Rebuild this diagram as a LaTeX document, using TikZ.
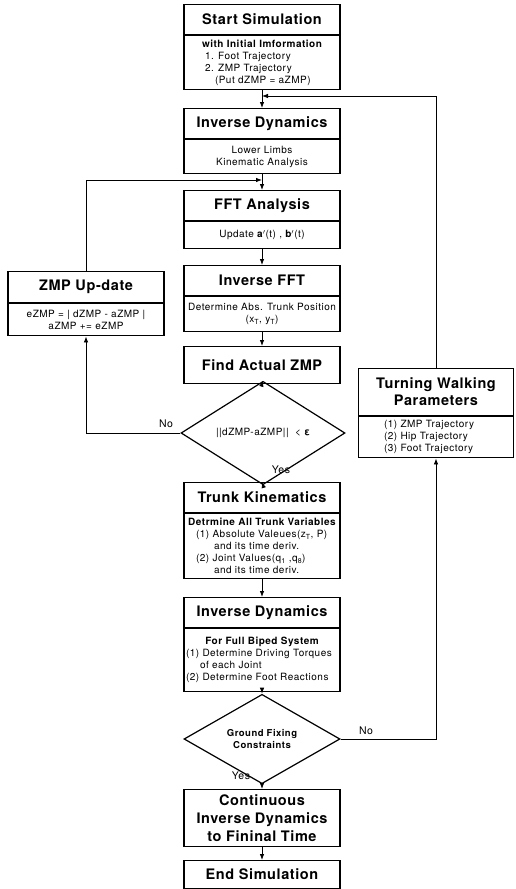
\documentclass[tikz,border=0pt]{standalone}
\usepackage{fontspec}
\setmainfont{TeX Gyre Heros}
\newfontfamily\ttlfont[LetterSpace=4]{TeX Gyre Heros}
\newfontfamily\bdyfont[LetterSpace=5]{TeX Gyre Heros}
\usetikzlibrary{arrows.meta,shapes.geometric}
\tikzset{
  ttl/.style={draw, line width=1.2pt, inner sep=0pt, anchor=north, align=center,
    minimum width=156pt, font=\ttlfont\fontsize{14.5}{17}\selectfont\bfseries},
  bdy/.style={draw, line width=1.2pt, inner sep=0pt, anchor=north, align=center,
    minimum width=156pt, font=\bdyfont\fontsize{10}{12}\selectfont},
  dec/.style={draw, diamond, line width=1.2pt, inner sep=0pt, align=center},
  arr/.style={-{Latex[length=6pt,width=4.5pt]}, line width=0.8pt},
  lbl/.style={font=\bdyfont\fontsize{10.5}{12}\selectfont, inner sep=0pt}
}
\begin{document}
\begin{tikzpicture}[x=1pt,y=-1pt]
\useasboundingbox (0,0) rectangle (515,889);
% Start
\node[ttl, minimum height=30pt] (st) at (262,4) {Start Simulation};
\node[bdy, minimum height=54pt] (sb) at (st.south) {{\bfseries with Initial Imformation}\\
  \makebox[114pt][l]{1. Foot Trajectory}\\
  \makebox[114pt][l]{2. ZMP Trajectory}\\
  \makebox[114pt][l]{\hspace{10pt}(Put dZMP = aZMP)}};
% Inverse dynamics 1
\node[ttl, minimum height=30pt] (id) at (262,108) {Inverse Dynamics};
\node[bdy, minimum height=34pt] (ib) at (id.south) {Lower Limbs\\Kinematic Analysis};
% FFT
\node[ttl, minimum height=30pt] (ff) at (262,190) {FFT Analysis};
\node[bdy, minimum height=27pt] (fb) at (ff.south) {Update {\bfseries a}$'$(t) , {\bfseries b}$'$(t)};
% Inverse FFT
\node[ttl, minimum height=30pt] (if) at (262,265) {Inverse FFT};
\node[bdy, minimum height=35pt] (iq) at (if.south) {Determine Abs. Trunk Position\\(x\textsubscript{T}, y\textsubscript{T})};
% ZMP update
\node[ttl, minimum height=31pt] (zu) at (86,271) {ZMP Up-date};
\node[bdy, minimum height=32pt] (zb) at (zu.south) {eZMP = | dZMP - aZMP |\\aZMP += eZMP};
% Find actual ZMP
\node[ttl, minimum height=37pt] (fa) at (262,346) {Find Actual ZMP};
% Decision 1
\node[dec, minimum width=164pt, minimum height=62pt, font=\bdyfont\fontsize{10}{12}\selectfont] (d1) at (263,433) {||dZMP-aZMP||\ \ < {\bfseries ε}};
% Trunk kinematics
\node[ttl, minimum height=30pt] (tk) at (262,482) {Trunk Kinematics};
\node[bdy, minimum height=65pt] (tb) at (tk.south) {{\bfseries Detrmine All Trunk Variables}\\
  \makebox[132pt][l]{(1) Absolute Valeues(z\textsubscript{T}, P)}\\
  \makebox[132pt][l]{\hspace{18pt}and its time deriv.}\\
  \makebox[132pt][l]{(2) Joint Values(q\textsubscript{1} ,q\textsubscript{8})}\\
  \makebox[132pt][l]{\hspace{18pt}and its time deriv.}};
% Inverse dynamics 2
\node[ttl, minimum height=30pt] (i2) at (262,597) {Inverse Dynamics};
\node[bdy, minimum height=63pt] (jb) at (i2.south) {{\bfseries For Full Biped System}\\
  \makebox[152pt][l]{(1) Determine Driving Torques}\\
  \makebox[152pt][l]{\hspace{14pt}of each Joint}\\
  \makebox[152pt][l]{(2) Determine Foot Reactions}};
% Decision 2
\node[dec, minimum width=156pt, minimum height=56pt, font=\bdyfont\fontsize{9.5}{12}\selectfont\bfseries] (d2) at (262,739) {Ground Fixing\\Constraints};
% Turning walking parameters
\node[ttl, minimum height=47pt, minimum width=155pt] (tw) at (436,368) {Turning Walking\\Parameters};
\node[bdy, minimum height=41pt, minimum width=155pt] (tp) at (tw.south) {\makebox[104pt][l]{(1) ZMP Trajectory}\\
  \makebox[104pt][l]{(2) Hip Trajectory}\\
  \makebox[104pt][l]{(3) Foot Trajectory}};
% Continuous
\node[ttl, minimum height=57pt, font=\ttlfont\fontsize{14.5}{18}\selectfont\bfseries] (ci) at (262,789) {Continuous\\Inverse Dynamics\\to Fininal Time};
% End
\node[ttl, minimum height=28pt] (en) at (262,860) {End Simulation};
% junction points
\coordinate (j1) at (262,96);
\coordinate (j2) at (262,180);
% connectors
\draw[arr] (sb.south) -- (id.north);
\draw[arr] (ib.south) -- (ff.north);
\draw[arr] (fb.south) -- (if.north);
\draw[arr] (iq.south) -- (fa.north);
\draw[arr] (fa.south) -- (d1.north);
\draw[arr] (d1.south) -- (tk.north);
\draw[arr] (tb.south) -- (i2.north);
\draw[arr] (jb.south) -- (d2.north);
\draw[arr] (d2.south) -- (ci.north);
\draw[arr] (ci.south) -- (en.north);
\draw[arr] (d1.west) -| (zb.south);
\draw[arr] (zu.north) |- (j2);
\draw[arr] (d2.east) -| (tp.south);
\draw[arr] (tw.north) |- (j1);
% labels
\node[lbl] (no1) at (166,424) {No};
\node[lbl] (ye1) at (281,470) {Yes};
\node[lbl] (no2) at (366,731) {No};
\node[lbl] (ye2) at (241,776) {Yes};
\end{tikzpicture}
\end{document}
